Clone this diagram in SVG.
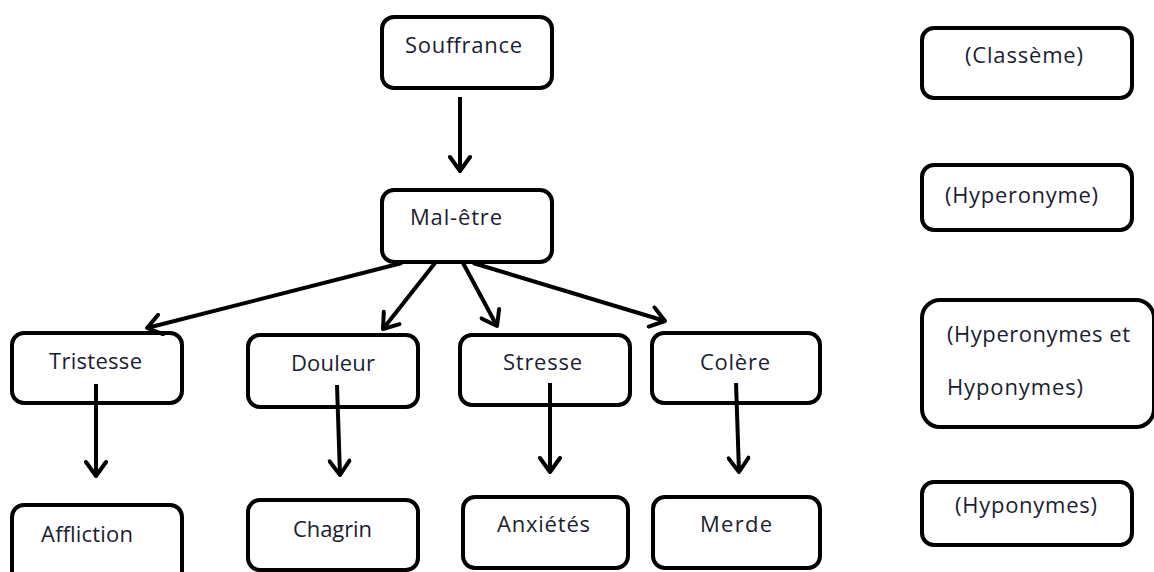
<svg xmlns="http://www.w3.org/2000/svg" width="1154" height="572" viewBox="0 0 1154 572">
<style>
.box{fill:#fff;stroke:#000;stroke-width:4}
.lbl{font-family:"Open Sans","Liberation Sans",sans-serif;font-size:22px;fill:#1a1d30}
.arr{fill:none;stroke:#000;stroke-width:4;marker-end:url(#ah)}
</style>
<defs>
<marker id="ah" markerUnits="userSpaceOnUse" viewBox="0 0 24 24" refX="20" refY="12" markerWidth="24" markerHeight="24" orient="auto">
<path d="M6,2 L20,12 L6,22" fill="none" stroke="#000" stroke-width="4" stroke-linecap="round" stroke-linejoin="round"/>
</marker>
</defs>
<rect width="1154" height="572" fill="#fff"/>
<g id="souffrance"><rect class="box" x="382" y="17" width="170" height="71" rx="12"/><text class="lbl" x="405" y="53" textLength="117">Souffrance</text></g>
<g id="maletre"><rect class="box" x="382" y="190" width="170" height="72" rx="12"/><text class="lbl" x="410" y="225" textLength="92">Mal-être</text></g>
<g id="tristesse"><rect class="box" x="12" y="333" width="170" height="70" rx="12"/><text class="lbl" x="49" y="369" textLength="93">Tristesse</text></g>
<g id="douleur"><rect class="box" x="248" y="335" width="170" height="72" rx="12"/><text class="lbl" x="291" y="371" textLength="84">Douleur</text></g>
<g id="stresse"><rect class="box" x="460" y="335" width="170" height="70" rx="12"/><text class="lbl" x="503" y="370" textLength="79">Stresse</text></g>
<g id="colere"><rect class="box" x="652" y="333" width="168" height="70" rx="12"/><text class="lbl" x="700" y="370" textLength="70">Colère</text></g>
<g id="affliction"><rect class="box" x="12" y="505" width="170" height="80" rx="12"/><text class="lbl" x="41" y="542" textLength="92">Affliction</text></g>
<g id="chagrin"><rect class="box" x="248" y="500" width="170" height="70" rx="12"/><text class="lbl" x="293" y="537" textLength="79">Chagrin</text></g>
<g id="anxietes"><rect class="box" x="463" y="497" width="165" height="71" rx="12"/><text class="lbl" x="497" y="532" textLength="93">Anxiétés</text></g>
<g id="merde"><rect class="box" x="653" y="497" width="167" height="71" rx="12"/><text class="lbl" x="700" y="532" textLength="72">Merde</text></g>
<g id="classeme"><rect class="box" x="922" y="28" width="210" height="70" rx="12"/><text class="lbl" x="965" y="63" textLength="118">(Classème)</text></g>
<g id="hyperonyme"><rect class="box" x="922" y="165" width="210" height="65" rx="12"/><text class="lbl" x="945" y="203" textLength="153">(Hyperonyme)</text></g>
<g id="hyperhypo"><rect class="box" x="922" y="300" width="232" height="127" rx="18"/><text class="lbl" x="947" y="342" textLength="183">(Hyperonymes et</text><text class="lbl" x="947" y="395" textLength="136">Hyponymes)</text></g>
<g id="hyponymes"><rect class="box" x="922" y="482" width="210" height="63" rx="12"/><text class="lbl" x="955" y="513" textLength="142">(Hyponymes)</text></g>
<g id="connectors">
<path class="arr" d="M460,97 L460,171"/>
<path class="arr" d="M402,263 L147,328"/>
<path class="arr" d="M435,263 L383,329"/>
<path class="arr" d="M463,263 L497,326"/>
<path class="arr" d="M473,263 L665,321"/>
<path class="arr" d="M96,384 L96,476"/>
<path class="arr" d="M337,385 L340,475"/>
<path class="arr" d="M550,383 L550,472"/>
<path class="arr" d="M736,383 L739,472"/>
</g>
</svg>
